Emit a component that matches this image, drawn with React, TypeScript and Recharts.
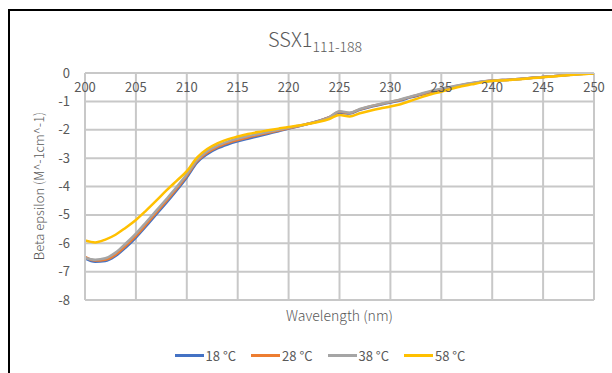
import { LineChart, Line, XAxis, YAxis, CartesianGrid } from "recharts";

const wavelengths = [
  200, 201, 202, 203, 204, 205, 206, 207, 208, 209, 210, 211, 212, 213, 214, 215, 216, 217, 218, 219, 220,
  221, 222, 223, 224, 225, 226, 227, 228, 229, 230, 231, 232, 233, 234, 235, 236, 237, 238, 239, 240,
  241, 242, 243, 244, 245, 246, 247, 248, 249, 250,
];

const t18 = [
  -6.53, -6.65, -6.63, -6.45, -6.15, -5.8, -5.4, -4.98, -4.57, -4.14, -3.68, -3.16, -2.86, -2.66, -2.52, -2.41, -2.32, -2.23, -2.14, -2.05, -1.96,
  -1.88, -1.78, -1.68, -1.56, -1.4, -1.43, -1.3, -1.2, -1.12, -1.04, -0.96, -0.86, -0.77, -0.68, -0.6, -0.51, -0.43, -0.37, -0.31, -0.27,
  -0.25, -0.23, -0.2, -0.17, -0.14, -0.11, -0.08, -0.05, -0.03, -0.01,
];
const t28 = [
  -6.48, -6.61, -6.58, -6.4, -6.09, -5.74, -5.34, -4.92, -4.51, -4.08, -3.62, -3.11, -2.81, -2.61, -2.47, -2.36, -2.27, -2.19, -2.11, -2.03, -1.95,
  -1.87, -1.78, -1.69, -1.56, -1.37, -1.41, -1.28, -1.18, -1.1, -1.02, -0.94, -0.84, -0.75, -0.65, -0.57, -0.49, -0.42, -0.36, -0.31, -0.26,
  -0.25, -0.23, -0.2, -0.17, -0.14, -0.11, -0.08, -0.05, -0.03, -0.01,
];
const t38 = [
  -6.52, -6.58, -6.53, -6.33, -6.01, -5.66, -5.26, -4.85, -4.44, -4.02, -3.57, -3.07, -2.76, -2.56, -2.42, -2.31, -2.22, -2.15, -2.07, -2.0, -1.93,
  -1.86, -1.78, -1.69, -1.56, -1.35, -1.4, -1.27, -1.17, -1.09, -1.01, -0.93, -0.83, -0.73, -0.63, -0.55, -0.48, -0.41, -0.35, -0.3, -0.26,
  -0.25, -0.23, -0.2, -0.17, -0.14, -0.11, -0.08, -0.05, -0.03, -0.01,
];
const t58 = [
  -5.9, -5.97, -5.87, -5.7, -5.45, -5.18, -4.85, -4.5, -4.14, -3.8, -3.46, -2.98, -2.68, -2.48, -2.34, -2.24, -2.15, -2.08, -2.02, -1.96, -1.9,
  -1.85, -1.79, -1.72, -1.62, -1.48, -1.53, -1.42, -1.33, -1.25, -1.18, -1.1, -0.98, -0.86, -0.75, -0.66, -0.56, -0.47, -0.4, -0.33, -0.28,
  -0.26, -0.24, -0.21, -0.18, -0.15, -0.12, -0.09, -0.06, -0.04, -0.02,
];

const seriesNames = ["18 °C", "28 °C", "38 °C", "58 °C"];
const seriesColors = ["#4472C4", "#ED7D31", "#A5A5A5", "#FFC000"];
const xTicks = [200, 205, 210, 215, 220, 225, 230, 235, 240, 245, 250];
const yTicks = [0, -1, -2, -3, -4, -5, -6, -7, -8];

const data = wavelengths.map((w, i) => ({
  w,
  s0: t18[i],
  s1: t28[i],
  s2: t38[i],
  s3: t58[i],
}));

const FONT = "'Noto Sans CJK JP', 'Noto Sans', sans-serif";
const TEXT = "#595959";
const GRID = "#c8c8c8";

const LegendRow = () => (
  <div style={{ display: "flex", justifyContent: "center", gap: 15, fontFamily: FONT, fontSize: 13, color: TEXT }}>
    {seriesNames.map((n, i) => (
      <div key={n} style={{ display: "flex", alignItems: "center" }}>
        <span style={{ display: "inline-block", width: 29, height: 3, background: seriesColors[i], marginRight: 2 }} />
        <span>{n}</span>
      </div>
    ))}
  </div>
);

const App = () => {
  return (
    <div style={{ position: "fixed", left: 0, top: 0, width: 612, height: 373, overflow: "hidden", background: "#fff" }}>
      <div
        style={{
          position: "absolute",
          left: 8,
          top: 9,
          width: 640,
          height: 420,
          border: "2px solid #000",
        }}
      />
      <div
        style={{
          position: "absolute",
          left: 0,
          top: 24,
          width: 630,
          textAlign: "center",
          fontFamily: FONT,
          color: TEXT,
          fontSize: 20,
          fontWeight: 300,
        }}
      >
        SSX1<sub style={{ fontSize: 14 }}>111-188</sub>
      </div>
      <div
        style={{
          position: "absolute",
          left: 85,
          width: 509,
          top: 305,
          textAlign: "center",
          fontFamily: FONT,
          color: TEXT,
          fontSize: 14,
          fontWeight: 300,
        }}
      >
        Wavelength (nm)
      </div>
      <div
        style={{
          position: "absolute",
          left: 38,
          top: 186,
          transform: "translate(-50%, -50%) rotate(-90deg)",
          whiteSpace: "nowrap",
          fontFamily: FONT,
          color: TEXT,
          fontSize: 13,
          fontWeight: 300,
        }}
      >
        Beta epsilon (M^-1cm^-1)
      </div>
      <div style={{ position: "absolute", left: 7, top: 346, width: 626 }}>
        <LegendRow />
      </div>
      <div style={{ position: "absolute", left: 0, top: 0 }}>
        <LineChart
          width={612}
          height={373}
          data={data}
          margin={{ top: 73, right: 18, bottom: 73, left: 8 }}
        >
          <CartesianGrid stroke={GRID} strokeWidth={2} horizontal vertical />
          <XAxis
            dataKey="w"
            type="number"
            domain={[200, 250]}
            ticks={xTicks}
            orientation="top"
            mirror
            height={30}
            axisLine={{ stroke: GRID, strokeWidth: 2 }}
            tickLine={false}
            tickMargin={4}
            tick={{ fill: TEXT, fontSize: 13, fontFamily: FONT }}
          />
          <YAxis
            type="number"
            domain={[-8, 0]}
            ticks={yTicks}
            width={77}
            axisLine={{ stroke: GRID, strokeWidth: 2 }}
            tickLine={false}
            tickMargin={9}
            tick={{ fill: TEXT, fontSize: 13, fontFamily: FONT }}
          />
          {seriesNames.map((n, i) => (
            <Line
              key={n}
              type="monotone"
              dataKey={`s${i}`}
              name={n}
              stroke={seriesColors[i]}
              strokeWidth={2.5}
              dot={false}
              isAnimationActive={false}
            />
          ))}
        </LineChart>
      </div>
    </div>
  );
};

export default App;
